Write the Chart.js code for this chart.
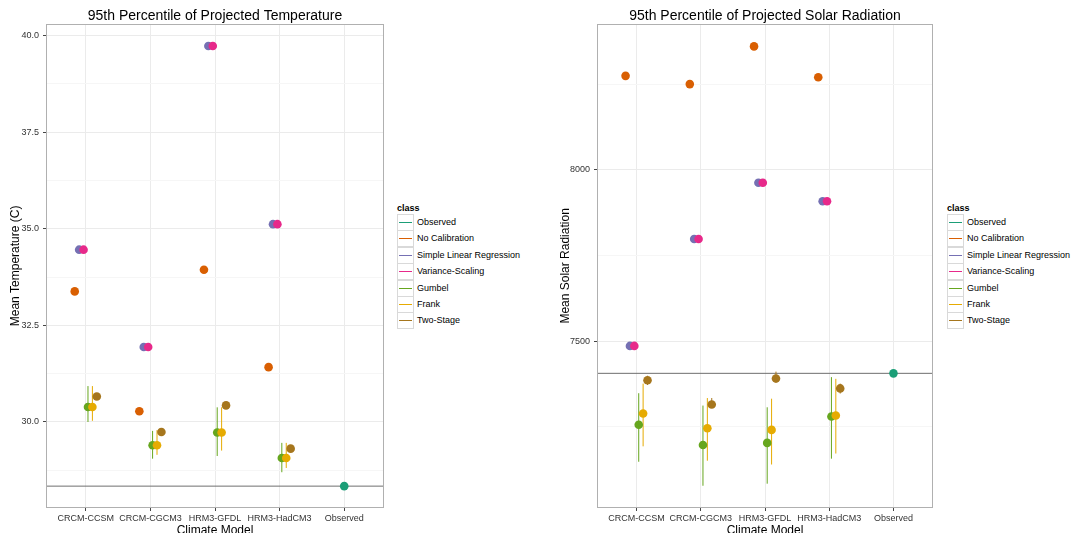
<!DOCTYPE html>
<html>
<head>
<meta charset="utf-8">
<title>95th Percentile of Projected Temperature and Solar Radiation</title>
<script src="https://cdn.jsdelivr.net/npm/chart.js@4.4.1/dist/chart.umd.min.js"></script>
<style>
  html, body { margin: 0; padding: 0; background: #fff; overflow: hidden; }
  #wrap { position: relative; width: 1076px; height: 533px; overflow: hidden;
          font-family: "Liberation Sans", Arial, Helvetica, sans-serif; }
  #wrap canvas { position: absolute; top: 0; }
  .lg-title { position: absolute; font-size: 9px; font-weight: bold; color: #000;
              height: 16px; line-height: 16px; white-space: nowrap; }
  .lg-key { position: absolute; width: 17px; height: 17px; box-sizing: border-box;
            border: 1px solid #d9d9d9; background: #fff; }
  .lg-key span { position: absolute; left: 1px; right: 1px; top: 7px; height: 1px; }
  .lg-label { position: absolute; font-size: 9px; color: #000; height: 16px;
              line-height: 16px; white-space: nowrap; }
</style>
</head>
<body>
<div id="wrap">
  <canvas id="tempChart" width="390" height="545" style="left:0px"></canvas>
  <canvas id="solarChart" width="390" height="545" style="left:550px"></canvas>
</div>
<script>
// ---- categories and classes ----
const MODELS = ['CRCM-CCSM', 'CRCM-CGCM3', 'HRM3-GFDL', 'HRM3-HadCM3', 'Observed'];
const CLASSES = ['Observed', 'No Calibration', 'Simple Linear Regression',
                 'Variance-Scaling', 'Gumbel', 'Frank', 'Two-Stage'];
const CLASS_COLORS = ['#1B9E77', '#D95F02', '#7570B3', '#E7298A', '#66A61E', '#E6AB02', '#A6761D'];

// ---- temperature (C): one value per climate model (CRCM-CCSM .. HRM3-HadCM3) ----
const tempNoCalibration    = [33.38, 30.28, 33.94, 31.42];
const tempLinearRegression = [34.46, 31.94, 39.73, 35.12];
const tempVarianceScaling  = [34.46, 31.94, 39.73, 35.12];
const tempGumbel           = [30.39, 29.40, 29.73, 29.07];
const tempGumbelLow        = [30.00, 29.05, 29.12, 28.70];
const tempGumbelHigh       = [30.93, 29.77, 30.38, 29.46];
const tempFrank            = [30.39, 29.40, 29.73, 29.07];
const tempFrankLow         = [30.03, 29.15, 29.26, 28.81];
const tempFrankHigh        = [30.93, 29.79, 30.38, 29.46];
const tempTwoStage         = [30.66, 29.74, 30.43, 29.31];
const tempObserved         = 28.34;
const tempMajorTicks       = [30, 32.5, 35, 37.5, 40];
const tempMinorTicks       = [28.75, 31.25, 33.75, 36.25, 38.75];

// ---- solar radiation: one value per climate model ----
const solarNoCalibration    = [8274, 8250, 8360, 8270];
const solarLinearRegression = [7486, 7798, 7962, 7908];
const solarVarianceScaling  = [7486, 7798, 7962, 7908];
const solarGumbel           = [7256, 7197, 7203, 7280];
const solarGumbelLow        = [7148, 7078, 7084, 7157];
const solarGumbelHigh       = [7348, 7312, 7307, 7395];
const solarFrank            = [7289, 7246, 7241, 7283];
const solarFrankLow         = [7193, 7151, 7140, 7172];
const solarFrankHigh        = [7376, 7334, 7332, 7390];
const solarTwoStage         = [7386, 7315, 7391, 7362];
const solarTwoStageLow      = [7372, 7306, 7378, 7347];
const solarTwoStageHigh     = [7399, 7334, 7411, 7376];
const solarObserved         = 7406;
const solarMajorTicks       = [7500, 8000];
const solarMinorTicks       = [7250, 7750, 8250];

// ---- drawing helpers ----
const FONT = '"Liberation Sans", Arial, Helvetica, sans-serif';
const DODGE = 0.41 / 6;   // spacing between the six dodged calibration classes

// x position (category units) of class c (1..6) inside model m (0..3)
function dodgeX(m, c) { return m + 1 + (c - 1 - 2.5) * DODGE; }

function panelExtras(spec) {
  return {
    id: 'panelExtras',
    beforeDatasetsDraw(chart) {
      const { ctx, chartArea, scales: { x, y } } = chart;
      ctx.save();
      // observed reference line
      const yo = y.getPixelForValue(spec.observed);
      ctx.strokeStyle = '#6e6e6e';
      ctx.lineWidth = 1;
      ctx.beginPath();
      ctx.moveTo(chartArea.left, yo);
      ctx.lineTo(chartArea.right, yo);
      ctx.stroke();
      // vertical ranges of the copula / two-stage estimates
      spec.ranges.forEach(r => {
        ctx.strokeStyle = CLASS_COLORS[r.cls];
        r.low.forEach((lo, m) => {
          const px = x.getPixelForValue(dodgeX(m, r.cls));
          ctx.beginPath();
          ctx.moveTo(px, y.getPixelForValue(lo));
          ctx.lineTo(px, y.getPixelForValue(r.high[m]));
          ctx.stroke();
        });
      });
      ctx.restore();
    },
    afterDraw(chart) {
      const { ctx, chartArea: a } = chart;
      ctx.save();
      ctx.strokeStyle = '#b0b0b0';
      ctx.lineWidth = 1;
      ctx.strokeRect(Math.round(a.left) - 0.5, Math.round(a.top) - 0.5,
                     Math.round(a.right - a.left) + 1, Math.round(a.bottom - a.top) + 1);
      ctx.restore();
    }
  };
}

function buildPanel(spec) {
  const majorSet = new Set(spec.majorTicks);
  const datasets = CLASSES.map((name, c) => {
    let data;
    if (c === 0) {
      data = [{ x: MODELS.indexOf('Observed') + 1, y: spec.observed }];
    } else {
      data = spec.series[c].map((v, m) => ({ x: dodgeX(m, c), y: v }));
    }
    return {
      label: name,
      data,
      order: -c,
      backgroundColor: CLASS_COLORS[c],
      borderWidth: 0,
      pointRadius: 4.3,
      pointHoverRadius: 4.3,
      showLine: false
    };
  });

  return new Chart(document.getElementById(spec.canvas), {
    type: 'scatter',
    data: { datasets },
    plugins: [panelExtras(spec)],
    options: {
      responsive: false,
      animation: false,
      devicePixelRatio: 1,
      events: [],
      layout: { padding: { left: 0, right: spec.padRight, top: 0, bottom: 0 } },
      plugins: {
        legend: { display: false },
        tooltip: { enabled: false },
        title: {
          display: true, text: spec.title, fullSize: false, color: '#000',
          font: { family: FONT, size: 14, weight: 'normal' },
          padding: { top: 8, bottom: 0 }
        }
      },
      scales: {
        x: {
          type: 'linear', min: 0.4, max: 5.6,
          afterBuildTicks: s => { s.ticks = MODELS.map((m, i) => ({ value: i + 1 })); },
          afterFit: s => { s.height = 38; },
          ticks: {
            callback: v => MODELS[v - 1],
            autoSkip: false, maxRotation: 0, minRotation: 0,
            color: '#333', padding: 2,
            font: { family: FONT, size: 9 }
          },
          grid: { color: '#ebebeb', lineWidth: 1, tickColor: '#444', tickLength: 4 },
          border: { display: false },
          title: {
            display: true, text: 'Climate Model', color: '#000',
            font: { family: FONT, size: 12 },
            padding: { top: 0, bottom: 7 }
          }
        },
        y: {
          type: 'linear', min: spec.yMin, max: spec.yMax,
          afterBuildTicks: s => {
            s.ticks = [...spec.minorTicks, ...spec.majorTicks]
              .sort((a, b) => a - b).map(v => ({ value: v }));
          },
          afterFit: s => { s.width = spec.axisWidth; },
          ticks: {
            callback: v => majorSet.has(v) ? spec.tickFormat(v) : '',
            color: '#333', padding: 4,
            font: { family: FONT, size: 9 }
          },
          grid: {
            color: c => majorSet.has(c.tick.value) ? '#ebebeb' : '#f6f6f6',
            tickColor: c => majorSet.has(c.tick.value) ? '#444' : 'rgba(0,0,0,0)',
            lineWidth: 1, tickLength: 4
          },
          border: { display: false },
          title: {
            display: true, text: spec.yTitle, color: '#000',
            font: { family: FONT, size: 12 },
            padding: { top: 8, bottom: 0 }
          }
        }
      }
    }
  });
}

function buildLegend(left) {
  const wrap = document.getElementById('wrap');
  const title = document.createElement('div');
  title.className = 'lg-title';
  title.textContent = 'class';
  title.style.left = left + 'px';
  title.style.top = '200px';
  wrap.appendChild(title);
  CLASSES.forEach((name, i) => {
    const top = 214 + i * 16.4;
    const key = document.createElement('div');
    key.className = 'lg-key';
    key.style.left = left + 'px';
    key.style.top = top + 'px';
    const line = document.createElement('span');
    line.style.background = CLASS_COLORS[i];
    key.appendChild(line);
    wrap.appendChild(key);
    const label = document.createElement('div');
    label.className = 'lg-label';
    label.textContent = name;
    label.style.left = (left + 20) + 'px';
    label.style.top = top + 'px';
    wrap.appendChild(label);
  });
}

buildPanel({
  canvas: 'tempChart',
  title: '95th Percentile of Projected Temperature',
  yTitle: 'Mean Temperature (C)',
  yMin: 27.8, yMax: 40.28,
  axisWidth: 47, padRight: 7,
  majorTicks: tempMajorTicks, minorTicks: tempMinorTicks,
  tickFormat: v => v.toFixed(1),
  observed: tempObserved,
  series: [null, tempNoCalibration, tempLinearRegression, tempVarianceScaling,
           tempGumbel, tempFrank, tempTwoStage],
  ranges: [
    { cls: 4, low: tempGumbelLow, high: tempGumbelHigh },
    { cls: 5, low: tempFrankLow, high: tempFrankHigh }
  ]
});

buildPanel({
  canvas: 'solarChart',
  title: '95th Percentile of Projected Solar Radiation',
  yTitle: 'Mean Solar Radiation',
  yMin: 7016, yMax: 8423,
  axisWidth: 48, padRight: 8,
  majorTicks: solarMajorTicks, minorTicks: solarMinorTicks,
  tickFormat: v => String(v),
  observed: solarObserved,
  series: [null, solarNoCalibration, solarLinearRegression, solarVarianceScaling,
           solarGumbel, solarFrank, solarTwoStage],
  ranges: [
    { cls: 4, low: solarGumbelLow, high: solarGumbelHigh },
    { cls: 5, low: solarFrankLow, high: solarFrankHigh },
    { cls: 6, low: solarTwoStageLow, high: solarTwoStageHigh }
  ]
});

buildLegend(397);
buildLegend(947);
</script>
</body>
</html>
